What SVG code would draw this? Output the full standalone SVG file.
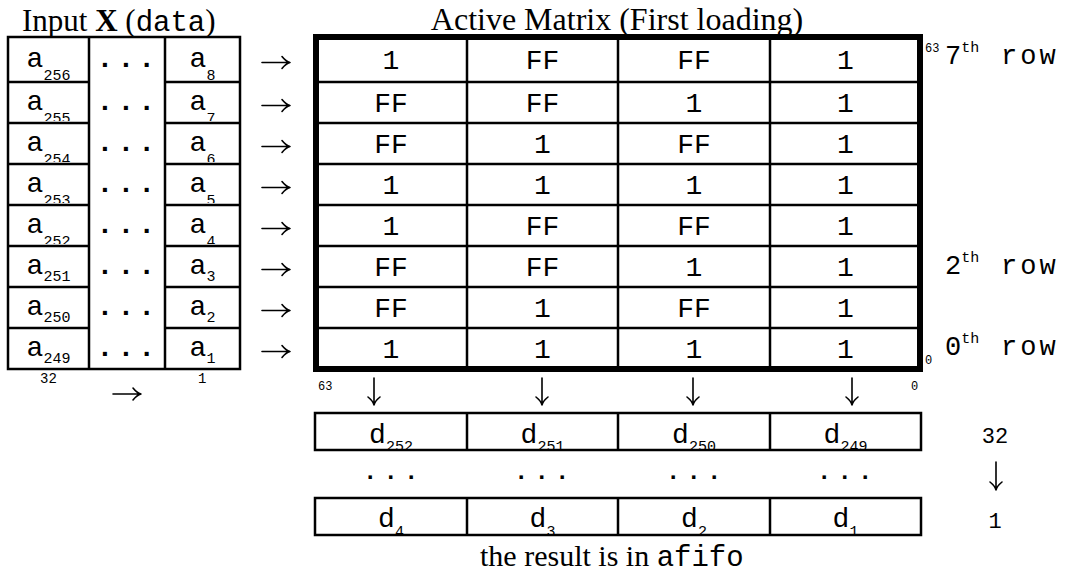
<svg xmlns="http://www.w3.org/2000/svg" width="1074" height="574" viewBox="0 0 1074 574">
<style>
.mono{font-family:"Liberation Mono","Courier New",monospace;}
.serif{font-family:"Liberation Serif","Times New Roman",serif;}
.cell{font-size:28px;text-anchor:middle;}
.sub{font-size:15px;}
.tiny{font-size:12px;}
.grid{fill:none;stroke:#000;stroke-width:2.5;}
.thick{fill:none;stroke:#000;stroke-width:6;}
.arrow{fill:none;stroke:#000;stroke-width:1.6;stroke-linecap:round;}
.dots{font-size:28px;font-weight:bold;letter-spacing:4px;}
.dots2{font-size:24px;font-weight:bold;letter-spacing:6.1px;}
</style>
<defs>
<clipPath id="c0"><rect x="0" y="38" width="260" height="42"/></clipPath>
<clipPath id="c1"><rect x="0" y="83" width="260" height="38"/></clipPath>
<clipPath id="c2"><rect x="0" y="124" width="260" height="38"/></clipPath>
<clipPath id="c3"><rect x="0" y="165" width="260" height="38"/></clipPath>
<clipPath id="c4"><rect x="0" y="206" width="260" height="38"/></clipPath>
<clipPath id="cd1"><rect x="300" y="414" width="640" height="35"/></clipPath>
<clipPath id="cd2"><rect x="300" y="499" width="640" height="35"/></clipPath>
</defs>

<g id="titles">
<text class="serif" x="22" y="31" font-size="31">Input <tspan font-weight="bold">X</tspan> (<tspan class="mono" font-size="29">data</tspan>)</text>
<text class="serif" x="617" y="30" font-size="32" text-anchor="middle">Active Matrix (First loading)</text>
<text class="serif" x="480" y="566" font-size="30">the result is in <tspan class="mono" font-size="29">afifo</tspan></text>
</g>

<g id="input-table">
<rect class="grid" x="8" y="37" width="232" height="332"/>
<path class="grid" d="M89 37V369M165 37V369M8 82H89M8 123H89M8 164H89M8 205H89M8 246H89M8 287H89M8 328H89M165 82H240M165 123H240M165 164H240M165 205H240M165 246H240M165 287H240M165 328H240"/>
<g id="in-row-1" clip-path="url(#c0)">
<text class="mono cell" x="48.5" y="67">a<tspan class="sub" dy="13">256</tspan></text>
<text class="mono cell" x="202.5" y="67">a<tspan class="sub" dy="13">8</tspan></text>
</g>
<g id="in-row-2" clip-path="url(#c1)">
<text class="mono cell" x="48.5" y="110">a<tspan class="sub" dy="13">255</tspan></text>
<text class="mono cell" x="202.5" y="110">a<tspan class="sub" dy="13">7</tspan></text>
</g>
<g id="in-row-3" clip-path="url(#c2)">
<text class="mono cell" x="48.5" y="151">a<tspan class="sub" dy="13">254</tspan></text>
<text class="mono cell" x="202.5" y="151">a<tspan class="sub" dy="13">6</tspan></text>
</g>
<g id="in-row-4" clip-path="url(#c3)">
<text class="mono cell" x="48.5" y="192">a<tspan class="sub" dy="13">253</tspan></text>
<text class="mono cell" x="202.5" y="192">a<tspan class="sub" dy="13">5</tspan></text>
</g>
<g id="in-row-5" clip-path="url(#c4)">
<text class="mono cell" x="48.5" y="233">a<tspan class="sub" dy="13">252</tspan></text>
<text class="mono cell" x="202.5" y="233">a<tspan class="sub" dy="13">4</tspan></text>
</g>
<g id="in-row-6">
<text class="mono cell" x="48.5" y="274">a<tspan class="sub" dy="7">251</tspan></text>
<text class="mono cell" x="202.5" y="274">a<tspan class="sub" dy="7">3</tspan></text>
</g>
<g id="in-row-7">
<text class="mono cell" x="48.5" y="315">a<tspan class="sub" dy="7">250</tspan></text>
<text class="mono cell" x="202.5" y="315">a<tspan class="sub" dy="7">2</tspan></text>
</g>
<g id="in-row-8">
<text class="mono cell" x="48.5" y="356">a<tspan class="sub" dy="7">249</tspan></text>
<text class="mono cell" x="202.5" y="356">a<tspan class="sub" dy="7">1</tspan></text>
</g>
<g id="in-dots" class="mono dots">
<text x="96.6" y="67">...</text>
<text x="96.6" y="110">...</text>
<text x="96.6" y="151">...</text>
<text x="96.6" y="192">...</text>
<text x="96.6" y="233">...</text>
<text x="96.6" y="274">...</text>
<text x="96.6" y="315">...</text>
<text x="96.6" y="356">...</text>
</g>
<text class="mono" font-size="14" x="40" y="383">32</text>
<text class="mono" font-size="14" x="198" y="383">1</text>
</g>

<g id="active-matrix">
<path class="grid" d="M467 37V369M618 37V369M770 37V369M316 82H920M316 123H920M316 164H920M316 205H920M316 246H920M316 287H920M316 328H920"/>
<rect class="thick" x="316" y="37" width="604" height="332"/>
<g class="mono cell">
<text x="391" y="69">1</text><text x="542.5" y="69">FF</text><text x="694" y="69">FF</text><text x="845.5" y="69">1</text>
<text x="391" y="112">FF</text><text x="542.5" y="112">FF</text><text x="694" y="112">1</text><text x="845.5" y="112">1</text>
<text x="391" y="153">FF</text><text x="542.5" y="153">1</text><text x="694" y="153">FF</text><text x="845.5" y="153">1</text>
<text x="391" y="194">1</text><text x="542.5" y="194">1</text><text x="694" y="194">1</text><text x="845.5" y="194">1</text>
<text x="391" y="235">1</text><text x="542.5" y="235">FF</text><text x="694" y="235">FF</text><text x="845.5" y="235">1</text>
<text x="391" y="276">FF</text><text x="542.5" y="276">FF</text><text x="694" y="276">1</text><text x="845.5" y="276">1</text>
<text x="391" y="317">FF</text><text x="542.5" y="317">1</text><text x="694" y="317">FF</text><text x="845.5" y="317">1</text>
<text x="391" y="358">1</text><text x="542.5" y="358">1</text><text x="694" y="358">1</text><text x="845.5" y="358">1</text>
</g>
<g class="mono">
<text class="tiny" x="925" y="52">63</text>
<text class="tiny" x="925" y="364">0</text>
<text class="tiny" x="318" y="390">63</text>
<text class="tiny" x="911" y="390">0</text>
<text font-size="27" x="945" y="64">7<tspan class="sub" dy="-12">th</tspan><tspan x="1001" dy="12" letter-spacing="3">row</tspan></text>
<text font-size="27" x="945" y="274">2<tspan class="sub" dy="-12">th</tspan><tspan x="1001" dy="12" letter-spacing="3">row</tspan></text>
<text font-size="27" x="945" y="355">0<tspan class="sub" dy="-12">th</tspan><tspan x="1001" dy="12" letter-spacing="3">row</tspan></text>
</g>
</g>

<g id="result-fifo">
<rect class="grid" x="315" y="413" width="606" height="37"/>
<rect class="grid" x="315" y="498" width="606" height="37"/>
<path class="grid" d="M467 413V450M618 413V450M770 413V450M467 498V535M618 498V535M770 498V535"/>
<g id="fifo-row-top" clip-path="url(#cd1)">
<text class="mono cell" x="391" y="443">d<tspan class="sub" dy="8">252</tspan></text>
<text class="mono cell" x="542.5" y="443">d<tspan class="sub" dy="8">251</tspan></text>
<text class="mono cell" x="694" y="443">d<tspan class="sub" dy="8">250</tspan></text>
<text class="mono cell" x="845.5" y="443">d<tspan class="sub" dy="8">249</tspan></text>
</g>
<g id="fifo-dots" class="mono dots2">
<text x="363" y="479">...</text>
<text x="514" y="479">...</text>
<text x="666" y="479">...</text>
<text x="817" y="479">...</text>
</g>
<g id="fifo-row-bottom" clip-path="url(#cd2)">
<text class="mono cell" x="391" y="527">d<tspan class="sub" dy="9">4</tspan></text>
<text class="mono cell" x="542.5" y="527">d<tspan class="sub" dy="9">3</tspan></text>
<text class="mono cell" x="694" y="527">d<tspan class="sub" dy="9">2</tspan></text>
<text class="mono cell" x="845.5" y="527">d<tspan class="sub" dy="9">1</tspan></text>
</g>
<text class="mono" font-size="22" x="995" y="443" text-anchor="middle">32</text>
<text class="mono" font-size="22" x="995" y="528" text-anchor="middle">1</text>
</g>

<g id="connectors" class="arrow">
<path d="M262 62.5H290M282 56.5Q286 61.5 290 62.5Q286 63.5 282 68.5"/>
<path d="M262 105.5H290M282 99.5Q286 104.5 290 105.5Q286 106.5 282 111.5"/>
<path d="M262 146.5H290M282 140.5Q286 145.5 290 146.5Q286 147.5 282 152.5"/>
<path d="M262 187.5H290M282 181.5Q286 186.5 290 187.5Q286 188.5 282 193.5"/>
<path d="M262 228.5H290M282 222.5Q286 227.5 290 228.5Q286 229.5 282 234.5"/>
<path d="M262 269.5H290M282 263.5Q286 268.5 290 269.5Q286 270.5 282 275.5"/>
<path d="M262 310.5H290M282 304.5Q286 309.5 290 310.5Q286 311.5 282 316.5"/>
<path d="M262 351.5H290M282 345.5Q286 350.5 290 351.5Q286 352.5 282 357.5"/>
<path d="M113 394H141M133 388Q137 393 141 394Q137 395 133 400"/>
<path d="M374 378V405M368 397Q373 401 374 405Q375 401 380 397"/>
<path d="M542 378V405M536 397Q541 401 542 405Q543 401 548 397"/>
<path d="M693 378V405M687 397Q692 401 693 405Q694 401 699 397"/>
<path d="M852 378V405M846 397Q851 401 852 405Q853 401 858 397"/>
<path d="M996 462V490M990 482Q995 486 996 490Q997 486 1002 482"/>
</g>
</svg>
